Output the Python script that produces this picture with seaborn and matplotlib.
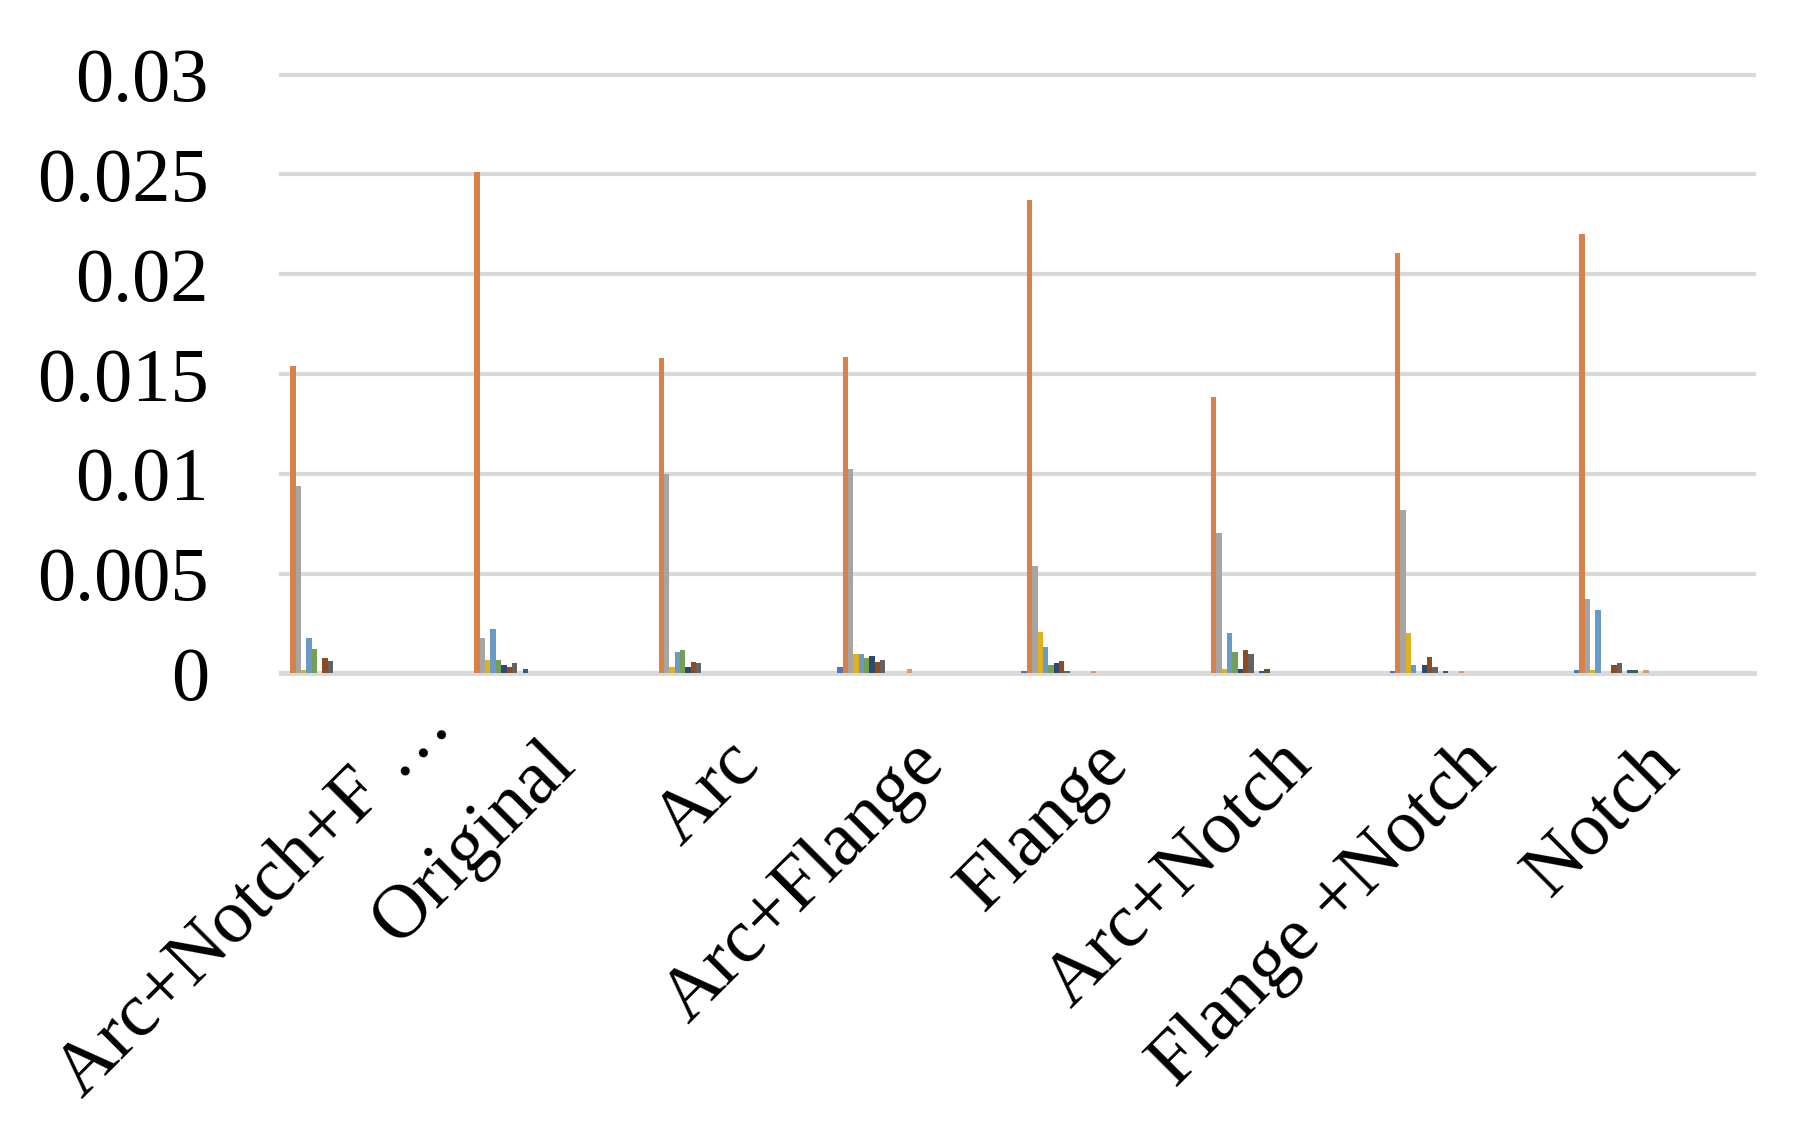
"""
Clustered bar chart of per-series values for each geometry variant (Excel style).
"""
import matplotlib
matplotlib.use("Agg")
import matplotlib.pyplot as plt
import matplotlib.transforms as mtransforms
import numpy as np
import pandas as pd
import seaborn as sns

categories = [
    "Arc+Notch+F …", "Original", "Arc", "Arc+Flange",
    "Flange", "Arc+Notch", "Flange +Notch", "Notch",
]

# one list per visible series, values in category order
s01 = [0, 0, 0, 0.0003, 0.00013, 0, 0.00013, 0.00018]
s02 = [0.01542, 0.02514, 0.01579, 0.01587, 0.02372, 0.01386, 0.02105, 0.02203]
s03 = [0.00939, 0.00176, 0.00997, 0.01022, 0.00536, 0.00705, 0.00819, 0.00375]
s04 = [0.00018, 0.00069, 0.0003, 0.00097, 0.0021, 0.00022, 0.00202, 0.00018]
s05 = [0.0018, 0.00222, 0.00105, 0.00097, 0.00135, 0.00203, 0.00042, 0.00317]
s06 = [0.00122, 0.00069, 0.00117, 0.00077, 0.00042, 0.00106, 0, 0]
s07 = [0, 0.00041, 0.0003, 0.00089, 0.00052, 0.00022, 0.00042, 0]
s08 = [0.00076, 0.00033, 0.00059, 0.00059, 0.0006, 0.00119, 0.0008, 0.00042]
s09 = [0.00064, 0.0005, 0.0005, 0.00069, 0.00013, 0.00097, 0.00034, 0.0005]
s11 = [0, 0.00022, 0, 0, 0, 0.00013, 0.00013, 0.00018]
s12 = [0, 0, 0, 0, 0, 0.00022, 0, 0.00018]
s14 = [0, 0, 0, 0.0002, 0.00013, 0, 0.00013, 0.00018]

series = {
    "S1": s01, "S2": s02, "S3": s03, "S4": s04, "S5": s05, "S6": s06,
    "S7": s07, "S8": s08, "S9": s09, "S11": s11, "S12": s12, "S14": s14,
}
# the workbook has 33 series; the others sit at zero and only take up room
series_order = [f"S{i}" for i in range(1, 34)]

excel_colors = [
    "#4472C4", "#ED7D31", "#A5A5A5", "#FFC000", "#5B9BD5", "#70AD47",
    "#264478", "#9E480E", "#636363", "#997300", "#255E91", "#43682B",
    "#698ED0", "#F1975A", "#B7B7B7", "#FFCD33", "#7CAFDD", "#8CC168",
    "#335AA1", "#C65911", "#7C7C7C", "#BF9000", "#327DC2", "#5A8A39",
    "#8FAADC", "#F4B183", "#C9C9C9", "#FFD966", "#9DC3E6", "#A9D18E",
    "#203864", "#843C0C", "#525252",
]

rows = []
for name, vals in series.items():
    for cat, v in zip(categories, vals):
        rows.append({"category": cat, "series": name, "value": v})
df = pd.DataFrame(rows)

plt.rcParams["font.family"] = ["Liberation Serif", "DejaVu Serif"]

fig = plt.figure(figsize=(17.98, 11.33), dpi=100)
ax = fig.add_axes([0.1563, 0.4056, 0.8192, 0.5286])

sns.barplot(
    data=df, x="category", y="value", hue="series",
    order=categories, hue_order=series_order, palette=excel_colors,
    width=33 / 34.5, gap=0, linewidth=0, legend=False, ax=ax,
)

ax.set_xlim(-0.5, len(categories) - 0.5)
ax.set_ylim(0, 0.03)
ax.set_yticks([0, 0.005, 0.01, 0.015, 0.02, 0.025, 0.03])
ax.set_yticklabels(["0", "0.005", "0.01", "0.015", "0.02", "0.025", "0.03"])
ax.yaxis.grid(True, color="#D9D9D9", linewidth=3)
ax.set_axisbelow(True)
for gl in ax.get_ygridlines():
    gl.set_clip_on(False)
for side in ["top", "right", "left"]:
    ax.spines[side].set_visible(False)
ax.spines["bottom"].set_color("#D9D9D9")
ax.spines["bottom"].set_linewidth(3.5)
ax.spines["bottom"].set_zorder(0.5)
ax.set_xlabel("")
ax.set_ylabel("")
ax.tick_params(axis="y", length=0, pad=52, labelsize=55)
ax.tick_params(axis="x", length=0, pad=0, labelsize=55)

offset = mtransforms.ScaledTranslation(-0.17, -0.55, fig.dpi_scale_trans)
# the truncated first label sits a little higher and further right
first_shift = mtransforms.ScaledTranslation(0.60, 0.38, fig.dpi_scale_trans)
for i, lab in enumerate(ax.get_xticklabels()):
    lab.set_rotation(45)
    lab.set_ha("right")
    lab.set_va("top")
    lab.set_rotation_mode("anchor")
    tr = lab.get_transform() + offset
    if i == 0:
        tr = tr + first_shift
    lab.set_transform(tr)

fig.savefig("out.png", dpi=100)
